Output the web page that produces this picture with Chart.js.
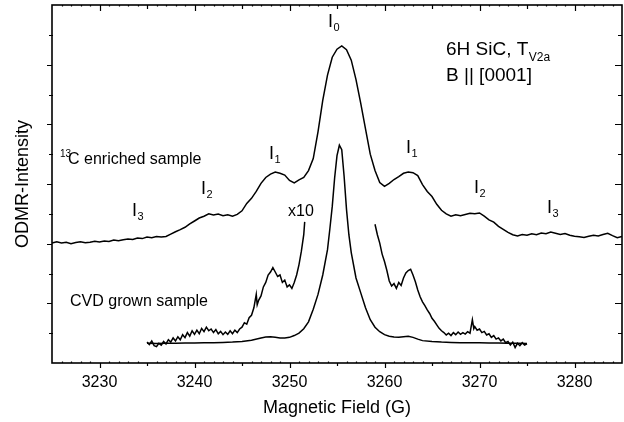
<!DOCTYPE html>
<html>
<head>
<meta charset="utf-8">
<script src="https://cdn.jsdelivr.net/npm/chart.js@4.4.1/dist/chart.umd.min.js"></script>
<style>
    body { margin: 0; background: #fff; }
    #wrap { width: 624px; height: 422px; }
</style>
</head>
<body>
<div id="wrap"><canvas id="odmrChart" width="624" height="422"></canvas></div>
<script>
// 13C enriched sample (upper trace)
const fieldTop = [3225, 3225.5, 3226, 3226.5, 3227, 3227.5, 3228, 3228.5, 3229, 3229.5,
    3230, 3230.5, 3231, 3231.5, 3232, 3232.5, 3233, 3233.5, 3234, 3234.5,
    3235, 3235.5, 3236, 3236.5, 3237, 3237.5, 3238, 3238.5, 3239, 3239.5,
    3240, 3240.5, 3241, 3241.5, 3242, 3242.5, 3243, 3243.5, 3244, 3244.5,
    3245, 3245.5, 3246, 3246.5, 3247, 3247.5, 3248, 3248.5, 3249, 3249.5,
    3250, 3250.5, 3251, 3251.5, 3252, 3252.5, 3253, 3253.5, 3254, 3254.5,
    3255, 3255.5, 3256, 3256.5, 3257, 3257.5, 3258, 3258.5, 3259, 3259.5,
    3260, 3260.5, 3261, 3261.5, 3262, 3262.5, 3263, 3263.5, 3264, 3264.5,
    3265, 3265.5, 3266, 3266.5, 3267, 3267.5, 3268, 3268.5, 3269, 3269.5,
    3270, 3270.5, 3271, 3271.5, 3272, 3272.5, 3273, 3273.5, 3274, 3274.5,
    3275, 3275.5, 3276, 3276.5, 3277, 3277.5, 3278, 3278.5, 3279, 3279.5,
    3280, 3280.5, 3281, 3281.5, 3282, 3282.5, 3283, 3283.5, 3284, 3284.5, 3285];
const enrichedTop = [4.02, 4.06, 4.02, 4.05, 4.00, 4.04, 4.06, 4.03, 4.05, 4.08,
    4.06, 4.09, 4.07, 4.12, 4.10, 4.13, 4.16, 4.14, 4.19, 4.17,
    4.22, 4.20, 4.24, 4.22, 4.24, 4.32, 4.40, 4.47, 4.55, 4.66,
    4.76, 4.86, 4.92, 5.00, 4.96, 4.99, 4.94, 4.97, 4.92, 4.98,
    5.10, 5.35, 5.52, 5.75, 6.02, 6.22, 6.33, 6.40, 6.36, 6.30,
    6.12, 6.04, 6.14, 6.22, 6.45, 6.85, 7.75, 8.80, 9.65, 10.25,
    10.52, 10.63, 10.50, 10.15, 9.50, 8.70, 7.85, 7.00, 6.45, 6.05,
    5.92, 6.02, 6.15, 6.25, 6.36, 6.40, 6.38, 6.28, 5.98, 5.75,
    5.58, 5.32, 5.12, 5.00, 4.92, 4.97, 4.94, 4.98, 5.02, 5.00,
    5.03, 4.92, 4.80, 4.72, 4.58, 4.48, 4.38, 4.30, 4.26, 4.31,
    4.28, 4.33, 4.30, 4.36, 4.33, 4.39, 4.35, 4.31, 4.34, 4.28,
    4.25, 4.23, 4.21, 4.25, 4.28, 4.26, 4.31, 4.35, 4.27, 4.20, 4.24];

// CVD grown sample, as measured
const fieldCvd = [3235, 3236, 3237, 3238, 3239, 3240, 3241, 3242, 3243, 3244, 3245, 3246, 3247,
    3247.5, 3248, 3248.5, 3249, 3249.5, 3250, 3250.5, 3251, 3251.5, 3252, 3252.5, 3253, 3253.5, 3254,
    3254.25, 3254.5, 3254.75, 3255, 3255.25, 3255.5, 3255.75, 3256, 3256.25, 3256.5,
    3257, 3257.5, 3258, 3258.5, 3259, 3259.5, 3260, 3260.5, 3261, 3261.5, 3262, 3262.5, 3263, 3263.5, 3264,
    3265, 3266, 3267, 3268, 3269, 3270, 3271, 3272, 3273, 3274, 3275];
const cvdSignal = [0.66, 0.65, 0.66, 0.66, 0.67, 0.67, 0.68, 0.68, 0.69, 0.70, 0.72, 0.76, 0.84,
    0.87, 0.88, 0.86, 0.84, 0.84, 0.86, 0.92, 1.00, 1.15, 1.38, 1.80, 2.30, 2.95, 3.80,
    4.50, 5.25, 6.20, 6.95, 7.30, 7.15, 6.25, 5.15, 4.30, 3.70,
    2.85, 2.35, 1.85, 1.45, 1.20, 1.05, 0.95, 0.90, 0.87, 0.86, 0.88, 0.90, 0.86, 0.80, 0.75,
    0.72, 0.70, 0.69, 0.68, 0.68, 0.68, 0.67, 0.67, 0.66, 0.66, 0.65];

// CVD grown sample x10, low-field wing
const fieldLeftX10 = [3235, 3235.25, 3235.5, 3235.75, 3236, 3236.25, 3236.5, 3236.75,
    3237, 3237.25, 3237.5, 3237.75, 3238, 3238.25, 3238.5, 3238.75,
    3239, 3239.25, 3239.5, 3239.75, 3240, 3240.25, 3240.5, 3240.75,
    3241, 3241.25, 3241.5, 3241.75, 3242, 3242.25, 3242.5, 3242.75,
    3243, 3243.25, 3243.5, 3243.75, 3244, 3244.25, 3244.5, 3244.75,
    3245, 3245.25, 3245.5, 3245.75, 3246, 3246.25, 3246.5, 3246.6, 3246.75,
    3247, 3247.25, 3247.5, 3247.75, 3248, 3248.25, 3248.5, 3248.75,
    3249, 3249.25, 3249.5, 3249.75, 3250, 3250.25, 3250.5, 3250.75,
    3251, 3251.25, 3251.5, 3251.6];
const cvdLeftX10 = [0.70, 0.62, 0.74, 0.58, 0.55, 0.66, 0.60, 0.72,
    0.64, 0.78, 0.70, 0.84, 0.74, 0.88, 0.78, 0.95,
    0.85, 1.02, 0.90, 1.08, 0.96, 1.10, 0.98, 1.16,
    1.05, 1.20, 1.08, 1.14, 1.02, 1.12, 0.98, 1.06,
    0.95, 1.04, 0.96, 1.08, 0.98, 1.10, 1.02, 1.14,
    1.20, 1.35, 1.30, 1.52, 1.60, 1.85, 2.30, 1.95, 2.10,
    2.25, 2.55, 2.70, 2.95, 3.05, 3.20, 3.05, 2.90,
    2.95, 2.70, 2.78, 2.55, 2.62, 2.50, 2.70, 2.95,
    3.30, 3.75, 4.30, 4.73];

// CVD grown sample x10, high-field wing
const fieldRightX10 = [3259, 3259.25, 3259.5, 3259.75, 3260, 3260.25, 3260.5, 3260.75,
    3261, 3261.25, 3261.5, 3261.75, 3262, 3262.25, 3262.5, 3262.75,
    3263, 3263.25, 3263.5, 3263.75, 3264, 3264.25, 3264.5, 3264.75,
    3265, 3265.25, 3265.5, 3265.75, 3266, 3266.25, 3266.5, 3266.75,
    3267, 3267.25, 3267.5, 3267.75, 3268, 3268.25, 3268.5, 3268.75,
    3269, 3269.25, 3269.4, 3269.5, 3269.75, 3270, 3270.25, 3270.5, 3270.75,
    3271, 3271.25, 3271.5, 3271.75, 3272, 3272.25, 3272.5, 3272.75,
    3273, 3273.25, 3273.5, 3273.75, 3274, 3274.25, 3274.5, 3274.75, 3275];
const cvdRightX10 = [4.65, 4.30, 4.02, 3.65, 3.40, 3.10, 2.75, 2.58,
    2.66, 2.50, 2.70, 2.60, 2.85, 3.02, 3.10, 3.14,
    2.95, 2.72, 2.45, 2.22, 2.05, 1.92, 1.78, 1.66,
    1.50, 1.40, 1.28, 1.16, 1.08, 1.02, 0.94, 1.00,
    0.92, 1.02, 0.95, 1.04, 0.96, 1.02, 0.97, 1.05,
    1.00, 1.45, 1.15, 1.22, 1.10, 1.14, 1.02, 1.06, 0.94,
    0.98, 0.86, 0.92, 0.80, 0.84, 0.74, 0.80, 0.68,
    0.72, 0.60, 0.70, 0.52, 0.66, 0.58, 0.68, 0.60, 0.64];

const xTicks = [3230, 3240, 3250, 3260, 3270, 3280];

const FONT = '"Liberation Sans", Arial, Helvetica, sans-serif';

function trace(xs, ys) {
    return {
        data: xs.map((x, i) => ({ x: x, y: ys[i] })),
        showLine: true,
        borderColor: '#000',
        borderWidth: 1.5,
        pointRadius: 0,
        tension: 0,
        fill: false
    };
}

// frame with inward/outward tick marks like the original plot
const frameTicks = {
    id: 'frameTicks',
    afterDraw(chart) {
        const { ctx, chartArea: a, scales: { x, y } } = chart;
        ctx.save();
        ctx.strokeStyle = '#000';
        ctx.lineWidth = 1.6;
        ctx.strokeRect(a.left, a.top, a.right - a.left, a.bottom - a.top);

        ctx.lineWidth = 1.2;
        ctx.beginPath();
        for (let g = 3226; g < 3285; g++) {
            const px = Math.round(x.getPixelForValue(g)) + 0.5;
            if (g % 10 === 0) {
                ctx.moveTo(px, a.bottom); ctx.lineTo(px, a.bottom + 5);
                ctx.moveTo(px, a.top); ctx.lineTo(px, a.top + 6);
            } else if (g % 5 === 0) {
                ctx.moveTo(px, a.bottom); ctx.lineTo(px, a.bottom + 3);
                ctx.moveTo(px, a.top); ctx.lineTo(px, a.top + 4);
            } else {
                ctx.moveTo(px, a.bottom); ctx.lineTo(px, a.bottom - 1.5);
                ctx.moveTo(px, a.top); ctx.lineTo(px, a.top + 1.5);
            }
        }
        for (let v = 1; v < 12; v++) {
            const py = Math.round(y.getPixelForValue(v)) + 0.5;
            if (v % 2 === 0) {
                ctx.moveTo(a.left - 5, py); ctx.lineTo(a.left, py);
                ctx.moveTo(a.right, py); ctx.lineTo(a.right - 7, py);
            } else {
                ctx.moveTo(a.left - 3, py); ctx.lineTo(a.left + 1, py);
                ctx.moveTo(a.right, py); ctx.lineTo(a.right - 4, py);
            }
        }
        ctx.stroke();
        ctx.restore();
    }
};

// text labels inside the plot
function drawSub(ctx, main, sub, x, y, size, subSize, drop) {
    ctx.font = size + 'px ' + FONT;
    ctx.fillText(main, x, y);
    const w = ctx.measureText(main).width;
    ctx.font = subSize + 'px ' + FONT;
    ctx.fillText(sub, x + w + 0.5, y + drop);
}

const plotLabels = {
    id: 'plotLabels',
    afterDraw(chart) {
        const ctx = chart.ctx;
        ctx.save();
        ctx.fillStyle = '#000';
        ctx.textAlign = 'left';
        ctx.textBaseline = 'alphabetic';

        drawSub(ctx, '6H SiC, T', 'V2a', 446, 55, 19, 12, 6);
        ctx.font = '19px ' + FONT;
        ctx.fillText('B || [0001]', 446, 81);

        ctx.font = '10px ' + FONT;
        ctx.fillText('13', 60, 157);
        ctx.font = '16px ' + FONT;
        ctx.fillText('C enriched sample', 68, 164);
        ctx.fillText('CVD grown sample', 70, 306);
        ctx.fillText('x10', 288, 216);

        drawSub(ctx, 'I', '0', 328, 27, 18, 11, 4);
        drawSub(ctx, 'I', '1', 269, 159, 18, 11, 4);
        drawSub(ctx, 'I', '2', 201, 194, 18, 11, 4);
        drawSub(ctx, 'I', '3', 132, 216, 18, 11, 4);
        drawSub(ctx, 'I', '1', 406, 153, 18, 11, 4);
        drawSub(ctx, 'I', '2', 474, 193, 18, 11, 4);
        drawSub(ctx, 'I', '3', 547, 213, 18, 11, 4);
        ctx.restore();
    }
};

const ctx = document.getElementById('odmrChart').getContext('2d');

const chart = new Chart(ctx, {
    type: 'scatter',
    data: {
        datasets: [
            trace(fieldTop, enrichedTop),
            trace(fieldCvd, cvdSignal),
            trace(fieldLeftX10, cvdLeftX10),
            trace(fieldRightX10, cvdRightX10)
        ]
    },
    options: {
        responsive: false,
        animation: false,
        devicePixelRatio: 1,
        layout: {
            padding: { top: 5, right: 2, left: 0, bottom: 0 }
        },
        plugins: {
            legend: { display: false },
            tooltip: { enabled: false }
        },
        scales: {
            x: {
                type: 'linear',
                min: 3225,
                max: 3285,
                afterBuildTicks: function(scale) {
                    scale.ticks = xTicks.map(v => ({ value: v }));
                },
                afterFit: function(scale) {
                    scale.height = 59;
                },
                grid: { display: false, drawTicks: false },
                border: { display: false },
                ticks: {
                    color: '#000',
                    padding: 10,
                    maxRotation: 0,
                    font: { family: FONT, size: 16 },
                    callback: function(value) {
                        return String(value);
                    }
                },
                title: {
                    display: true,
                    text: 'Magnetic Field (G)',
                    color: '#000',
                    padding: { top: 0, bottom: 3 },
                    font: { family: FONT, size: 18 }
                }
            },
            y: {
                type: 'linear',
                min: 0,
                max: 12,
                afterFit: function(scale) {
                    scale.width = 52;
                },
                grid: { display: false, drawTicks: false },
                border: { display: false },
                ticks: { display: false },
                title: {
                    display: true,
                    text: 'ODMR-Intensity',
                    color: '#000',
                    padding: { top: 12, bottom: 0 },
                    font: { family: FONT, size: 18 }
                }
            }
        }
    },
    plugins: [frameTicks, plotLabels]
});
</script>
</body>
</html>
